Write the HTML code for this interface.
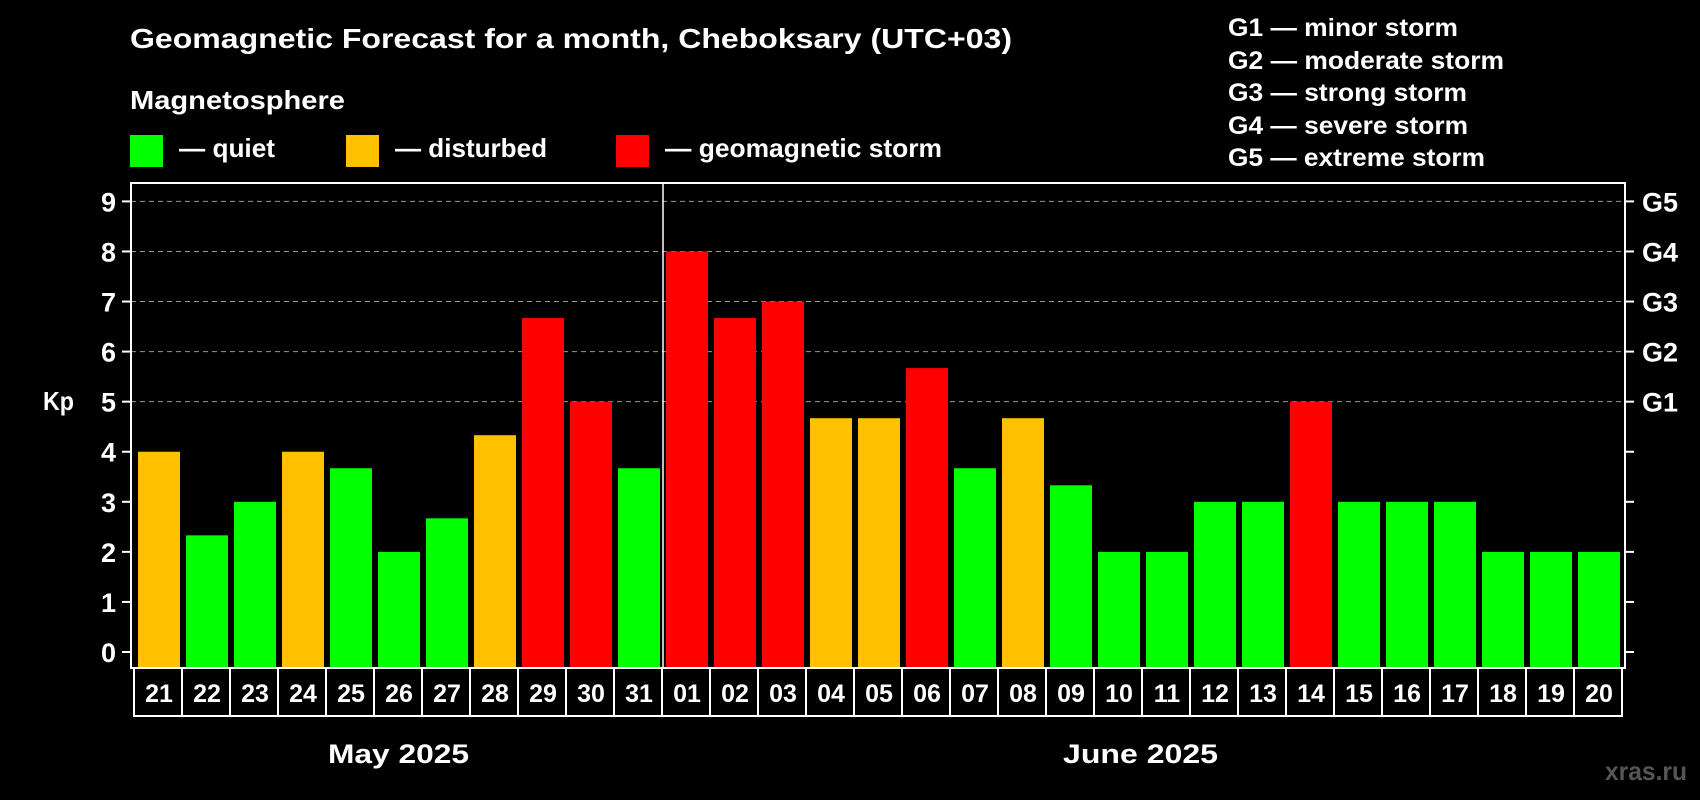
<!DOCTYPE html>
<html><head><meta charset="utf-8"><style>
body{margin:0;background:#000;}
svg{display:block;font-family:"Liberation Sans",Arial,sans-serif;font-weight:bold;}
</style></head><body>
<svg id="chart" width="1700" height="800" viewBox="0 0 1700 800">
<rect width="1700" height="800" fill="#000"/>
<text x="130" y="48" font-size="28" fill="#fff" textLength="882" lengthAdjust="spacingAndGlyphs">Geomagnetic Forecast for a month, Cheboksary (UTC+03)</text>
<text x="130" y="109" font-size="26" fill="#fff" textLength="215" lengthAdjust="spacingAndGlyphs">Magnetosphere</text>
<rect x="130" y="135" width="33" height="32" fill="#00ff00"/>
<text x="179" y="157" font-size="26" fill="#fff" textLength="96" lengthAdjust="spacingAndGlyphs">— quiet</text>
<rect x="346" y="135" width="33" height="32" fill="#ffc000"/>
<text x="395" y="157" font-size="26" fill="#fff" textLength="152" lengthAdjust="spacingAndGlyphs">— disturbed</text>
<rect x="616" y="135" width="33" height="32" fill="#ff0000"/>
<text x="665" y="157" font-size="26" fill="#fff" textLength="277" lengthAdjust="spacingAndGlyphs">— geomagnetic storm</text>
<g font-size="25" fill="#fff">
<text x="1228" y="36" textLength="230" lengthAdjust="spacingAndGlyphs">G1 — minor storm</text>
<text x="1228" y="69" textLength="276" lengthAdjust="spacingAndGlyphs">G2 — moderate storm</text>
<text x="1228" y="101" textLength="239" lengthAdjust="spacingAndGlyphs">G3 — strong storm</text>
<text x="1228" y="134" textLength="240" lengthAdjust="spacingAndGlyphs">G4 — severe storm</text>
<text x="1228" y="166" textLength="257" lengthAdjust="spacingAndGlyphs">G5 — extreme storm</text>
</g>
<text x="43" y="410" font-size="26" fill="#fff" textLength="31" lengthAdjust="spacingAndGlyphs">Kp</text>
<g id="plot"></g>
<text x="328" y="763" font-size="27" fill="#fff" textLength="141" lengthAdjust="spacingAndGlyphs">May 2025</text>
<text x="1063" y="763" font-size="27" fill="#fff" textLength="155" lengthAdjust="spacingAndGlyphs">June 2025</text>
<text x="1605" y="780" font-size="26" fill="#555" textLength="82" lengthAdjust="spacingAndGlyphs">xras.ru</text>
</svg>
<script>
const days=["21","22","23","24","25","26","27","28","29","30","31","01","02","03","04","05","06","07","08","09","10","11","12","13","14","15","16","17","18","19","20"];
const kpValues=[4,2.33,3,4,3.67,2,2.67,4.33,6.67,5,3.67,8,6.67,7,4.67,4.67,5.67,3.67,4.67,3.33,2,2,3,3,5,3,3,3,2,2,2];
const yTicks=[0,1,2,3,4,5,6,7,8,9];
const gLabels=["","","","","","G1","G2","G3","G4","G5"];
const NS="http://www.w3.org/2000/svg";
const g=document.getElementById("plot");
const L=131,R=1625,T=183,B=668;
const y0=652,unit=(652-201.4)/9;
const x0=138,slot=48,bw=42;
function yS(v){return y0-v*unit;}
function xS(i){return x0+i*slot;}
function mk(t,a){const e=document.createElementNS(NS,t);for(const k in a)e.setAttribute(k,a[k]);g.appendChild(e);return e;}
yTicks.forEach((v,i)=>{
 const y=yS(v);
 if(v>=5){const l=mk("line",{x1:L,x2:R,y1:y,y2:y,stroke:"#999","stroke-dasharray":"5,4","stroke-width":1});
 
 }
 const t1=mk("line",{x1:L-9,x2:L,y1:y,y2:y,stroke:"#fff","stroke-width":2});
 
 
 const t2=mk("line",{x1:R,x2:R+9,y1:y,y2:y,stroke:"#fff","stroke-width":2});
 
 
 const tx=mk("text",{x:116,y:y+10,"font-size":27,fill:"#fff","text-anchor":"end"});
 tx.textContent=v;
 
 
 if(gLabels[i]){const gt=mk("text",{x:1642,y:y+10,"font-size":27,fill:"#fff"});
 gt.textContent=gLabels[i];
 
 }
});
kpValues.forEach((v,i)=>{
 const col=v>=5?"#ff0000":(v>=4?"#ffc000":"#00ff00");
 const r=mk("rect",{x:xS(i),y:yS(v),width:bw,height:B-yS(v),fill:col});
 
 
 const c=mk("rect",{x:xS(i)-4,y:B,width:slot,height:48,fill:"none",stroke:"#fff","stroke-width":2});
 
 
 const t=mk("text",{x:xS(i)+bw/2,y:B+34,"font-size":25,fill:"#fff","text-anchor":"middle"});
 t.textContent=days[i];
 
 
});
const box=mk("rect",{x:L,y:T,width:R-L,height:B-T,fill:"none",stroke:"#fff","stroke-width":2});


const dv=mk("line",{x1:xS(11)-3,x2:xS(11)-3,y1:T,y2:B,stroke:"#fff","stroke-width":1.5});


</script>
</body></html>
